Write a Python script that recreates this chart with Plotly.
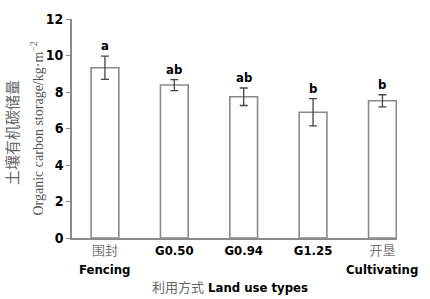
import plotly.graph_objects as go

categories = ["围封", "G0.50", "G0.94", "G1.25", "开垦"]
values = [9.33, 8.38, 7.74, 6.89, 7.52]
errors = [0.64, 0.30, 0.48, 0.75, 0.33]
letters = ["a", "ab", "ab", "b", "b"]
sub_labels = {0: "Fencing", 4: "Cultivating"}
y_ticks = [0, 2, 4, 6, 8, 10, 12]

SANS = "Liberation Sans Narrow, DejaVu Sans Condensed, Liberation Sans, Arial"
SERIF = "Liberation Serif, Times New Roman, Noto Sans CJK SC"
CJK = "Noto Sans CJK SC"

xs = list(range(len(categories)))
ticktext = []
for c in categories:
    if c.startswith("G"):
        ticktext.append(c)
    else:
        ticktext.append(f'<span style="font-family:{CJK};font-weight:normal;fill:#777">{c}</span>')

fig = go.Figure()
fig.add_trace(go.Bar(
    x=xs, y=values, width=0.4,
    marker=dict(color="white", line=dict(color="#8a8a8a", width=1.6)),
    error_y=dict(type="data", array=errors, visible=True, color="#444", thickness=1.3, width=4),
    showlegend=False,
))

annotations = []
for i, (v, e, l) in enumerate(zip(values, errors, letters)):
    annotations.append(dict(x=i, y=v + e, text=l, showarrow=False, yanchor="bottom",
                            yshift=1, font=dict(family=SANS, size=13, color="black", weight="bold")))
for i, t in sub_labels.items():
    annotations.append(dict(x=i, xref="x", y=0, yref="paper", yanchor="top", yshift=-22,
                            text=t, showarrow=False,
                            font=dict(family=SANS, size=13, color="black", weight="bold")))
annotations.append(dict(x=0.5, xref="paper", xshift=-5, y=0, yref="paper", yanchor="top", yshift=-37,
                        text=f'<span style="font-family:{CJK};font-weight:normal;fill:#666">利用方式</span> Land use types',
                        showarrow=False,
                        font=dict(family=SANS, size=13, color="black", weight="bold")))
annotations.append(dict(x=0, xref="paper", xanchor="center", xshift=-60, y=0.48, yref="paper",
                        yanchor="middle",
                        text="土壤有机碳储量", textangle=-90, showarrow=False,
                        font=dict(family=CJK, size=15, color="#666")))
annotations.append(dict(x=0, xref="paper", xanchor="center", xshift=-35, y=0.5, yref="paper",
                        yanchor="middle",
                        text="Organic carbon storage/kg·m<sup>−2</sup>", textangle=-90, showarrow=False,
                        font=dict(family=SERIF, size=14, color="#555")))

fig.update_layout(
    width=430, height=299,
    margin=dict(l=72, r=33, t=19, b=61),
    paper_bgcolor="white", plot_bgcolor="white",
    annotations=annotations,
    xaxis=dict(range=[-0.475, 4.21], tickvals=xs, ticktext=ticktext, showgrid=False,
               showline=True, linecolor="#8a8a8a", linewidth=1.6, ticks="", zeroline=False,
               tickfont=dict(family=SANS, size=13, color="black", weight="bold")),
    yaxis=dict(range=[0, 12], tickvals=y_ticks, showgrid=False, zeroline=False,
               showline=True, linecolor="#8a8a8a", linewidth=1.6, ticks="outside", ticklen=4,
               tickcolor="#8a8a8a", tickwidth=1.3,
               tickfont=dict(family=SANS, size=14, color="black", weight="bold")),
)
fig.write_html("out.html")
